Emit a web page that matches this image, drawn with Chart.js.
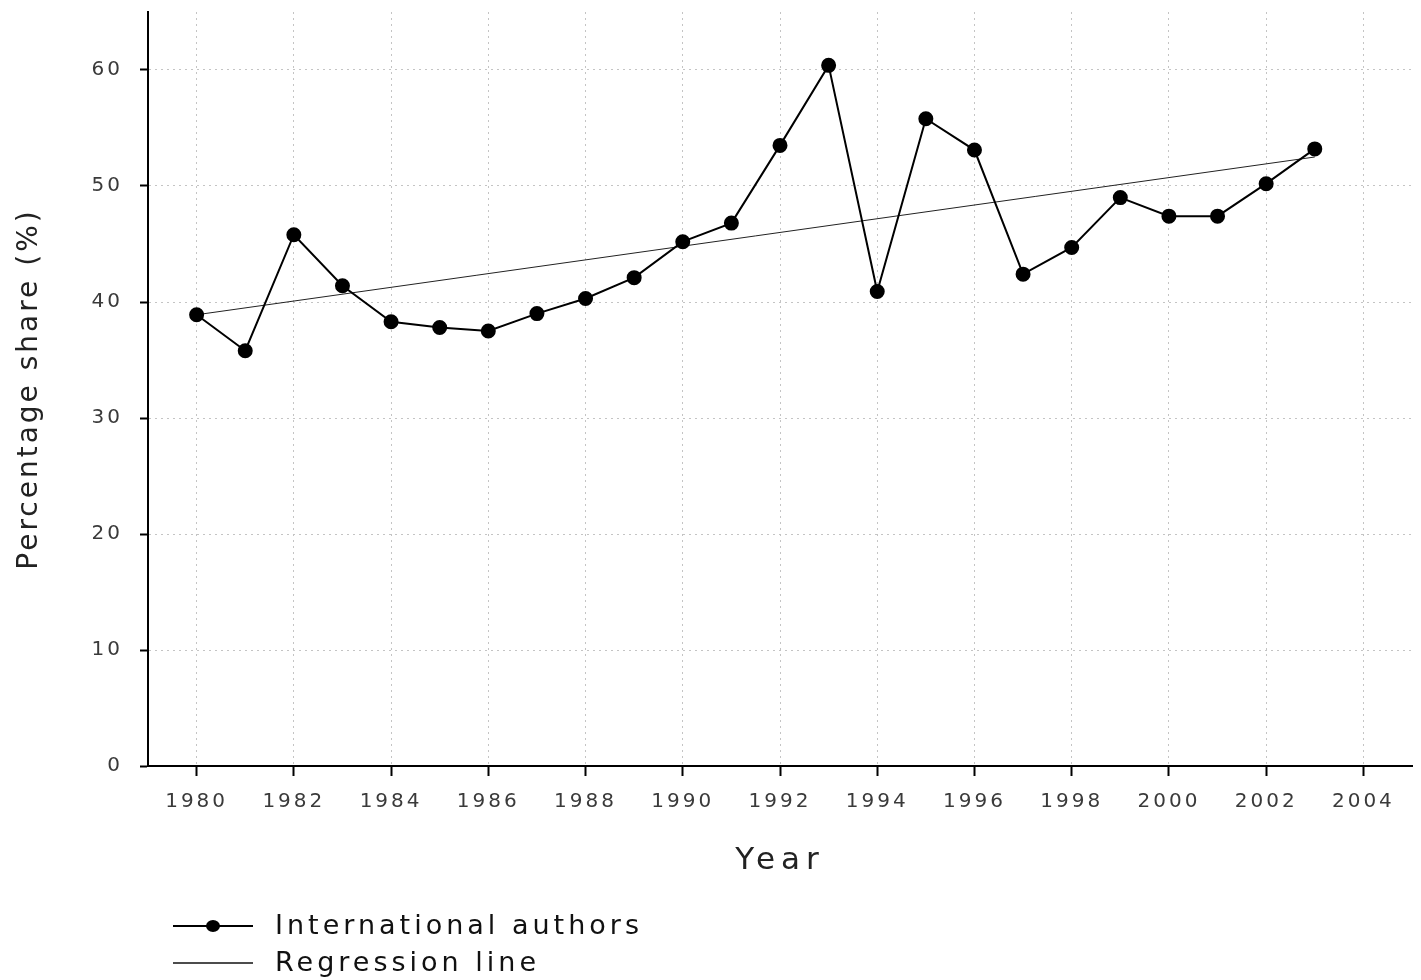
<!DOCTYPE html>
<html>
<head>
<meta charset="utf-8">
<script src="https://cdn.jsdelivr.net/npm/chart.js@4.4.1/dist/chart.umd.min.js"></script>
<style>
  html, body { margin: 0; background: #fff; }
  canvas { display: block; }
</style>
</head>
<body>
<canvas id="chart" width="1421" height="980"></canvas>
<script>
// data
const years = [1980, 1981, 1982, 1983, 1984, 1985, 1986, 1987, 1988, 1989, 1990, 1991,
               1992, 1993, 1994, 1995, 1996, 1997, 1998, 1999, 2000, 2001, 2002, 2003];
const intlShare = [38.9, 35.8, 45.8, 41.4, 38.3, 37.8, 37.5, 39.0, 40.3, 42.1, 45.2, 46.8,
                   53.5, 60.4, 40.9, 55.8, 53.1, 42.4, 44.7, 49.0, 47.4, 47.4, 50.2, 53.2];
const regYears = [1980, 2003];
const regShare = [38.9, 52.5];
const xTicks = [1980, 1982, 1984, 1986, 1988, 1990, 1992, 1994, 1996, 1998, 2000, 2002, 2004];
const yTicks = [0, 10, 20, 30, 40, 50, 60];
const legendItems = ['International authors', 'Regression line'];

const FONT = 'DejaVu Sans, Verdana, sans-serif';

// wider letter spacing like the original figure
const spacing = {
  id: 'spacing',
  beforeDraw(chart) {
    chart.ctx.letterSpacing = '3px';
    const sx = chart.scales.x;
    if (!sx._wideTitle) {
      const orig = sx.drawTitle;
      sx.drawTitle = function () {
        const prev = this.ctx.letterSpacing;
        this.ctx.letterSpacing = '6px';
        orig.call(this);
        this.ctx.letterSpacing = prev;
      };
      sx._wideTitle = true;
    }
  }
};

const legendPlugin = {
  id: 'legendBox',
  afterDraw(chart) {
    const ctx = chart.ctx;
    ctx.save();
    ctx.letterSpacing = '4px';
    ctx.font = '27px ' + FONT;
    ctx.textBaseline = 'middle';
    ctx.strokeStyle = '#000';
    let y = 926;
    ctx.lineWidth = 2;
    ctx.beginPath(); ctx.moveTo(173, y); ctx.lineTo(253, y); ctx.stroke();
    ctx.beginPath(); ctx.ellipse(213, y, 7, 6, 0, 0, Math.PI * 2); ctx.fillStyle = '#000'; ctx.fill();
    ctx.fillStyle = '#111';
    ctx.fillText(legendItems[0], 275, y + 1);
    y = 963;
    ctx.lineWidth = 1.3;
    ctx.strokeStyle = '#111';
    ctx.beginPath(); ctx.moveTo(173, y); ctx.lineTo(253, y); ctx.stroke();
    ctx.fillText(legendItems[1], 275, y + 1);
    ctx.restore();
  }
};

const noPad = s => { s.paddingTop = 0; s.paddingBottom = 0; s.paddingLeft = 0; s.paddingRight = 0; };

new Chart(document.getElementById('chart').getContext('2d'), {
  type: 'line',
  data: {
    datasets: [
      {
        label: legendItems[0],
        data: years.map((x, i) => ({ x, y: intlShare[i] })),
        borderColor: '#000',
        borderWidth: 2,
        pointRadius: 6.5,
        pointBackgroundColor: '#000',
        pointBorderColor: '#000',
        tension: 0,
        order: 1
      },
      {
        label: legendItems[1],
        data: regYears.map((x, i) => ({ x, y: regShare[i] })),
        borderColor: '#222',
        borderWidth: 1,
        pointRadius: 0,
        tension: 0,
        order: 2
      }
    ]
  },
  options: {
    responsive: false,
    animation: false,
    layout: { padding: { left: 0, top: 12, right: 9, bottom: 94 } },
    plugins: { legend: { display: false }, tooltip: { enabled: false } },
    scales: {
      x: {
        type: 'linear',
        min: 1979, max: 2005,
        afterBuildTicks: s => { s.ticks = xTicks.map(v => ({ value: v })); },
        afterFit: s => { s.height = 120; noPad(s); },
        grid: { color: '#c4c4c4', lineWidth: 1, tickColor: '#000', tickWidth: 2, tickLength: 10, tickBorderDash: [] },
        border: { color: '#000', width: 2, dash: [2, 4] },
        ticks: { color: '#3a3a3a', font: { family: FONT, size: 20 }, padding: 14, maxRotation: 0, callback: v => String(v) },
        title: { display: true, text: 'Year', color: '#222', font: { family: FONT, size: 31 }, padding: { top: 0, bottom: 6 } }
      },
      y: {
        min: 0, max: 65,
        afterBuildTicks: s => { s.ticks = yTicks.map(v => ({ value: v })); },
        afterFit: s => { s.width = 148; noPad(s); },
        grid: { color: '#c4c4c4', lineWidth: 1, tickColor: '#000', tickWidth: 2, tickLength: 8, tickBorderDash: [] },
        border: { color: '#000', width: 2, dash: [2, 4] },
        ticks: { color: '#3a3a3a', font: { family: FONT, size: 20 }, padding: 17 },
        title: { display: true, text: 'Percentage share (%)', color: '#222', font: { family: FONT, size: 28 }, padding: { top: 13, bottom: 0 } }
      }
    }
  },
  plugins: [spacing, legendPlugin]
});
</script>
</body>
</html>
